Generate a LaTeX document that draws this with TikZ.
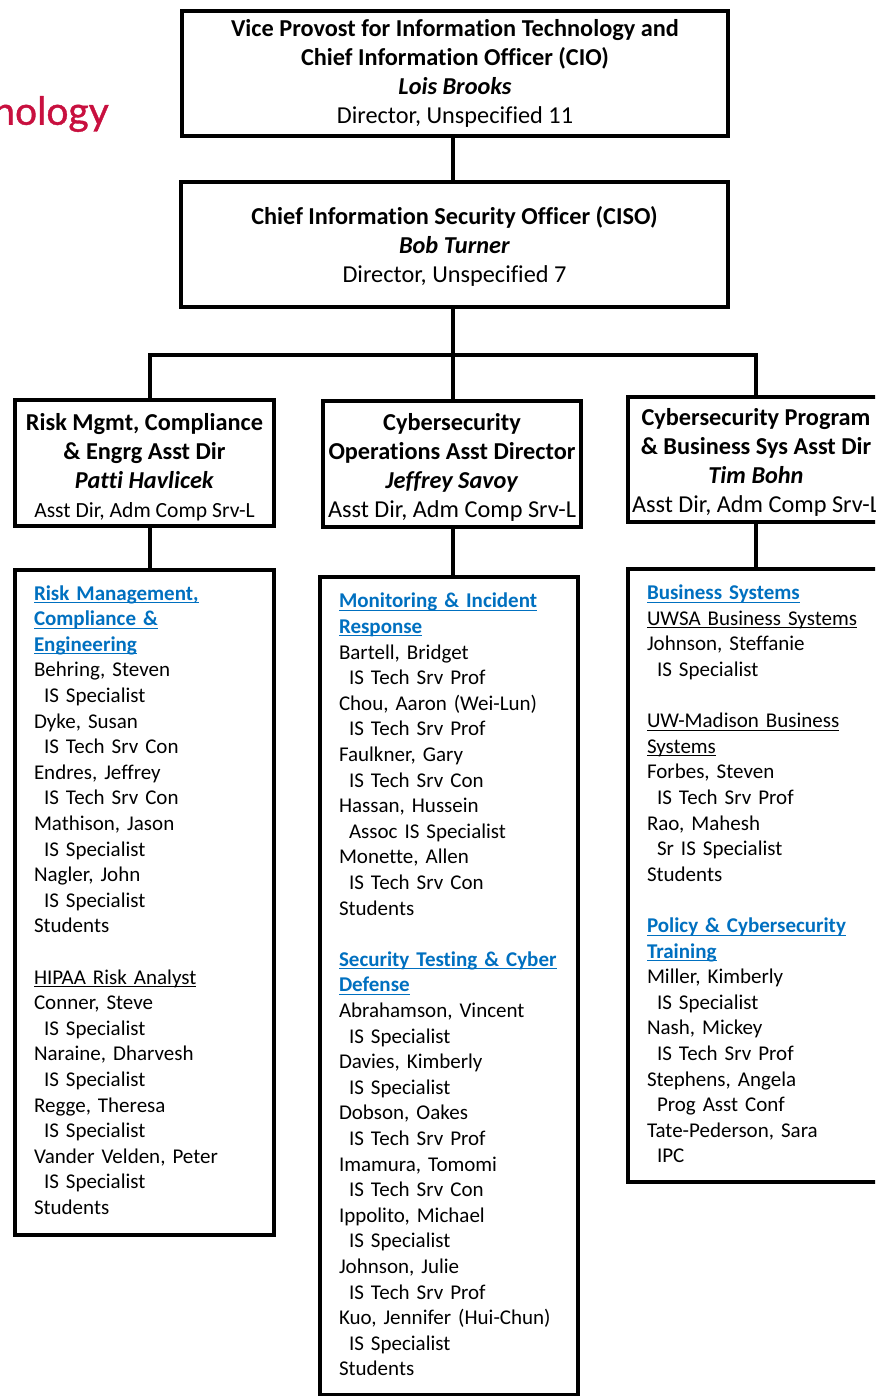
\documentclass[tikz,border=0pt]{standalone}
\usepackage{fontspec}
\setmainfont{Carlito}[Ligatures=NoCommon]
\newfontfamily\logofont{Lato}[FakeBold=1]
\definecolor{linkblue}{HTML}{0070C0}
\definecolor{logored}{HTML}{C8103F}
\newsavebox{\ulinebox}
\newcommand{\ulined}[1]{\sbox{\ulinebox}{#1}\usebox{\ulinebox}\llap{\rule[-3pt]{\wd\ulinebox}{1pt}}}
\newcommand{\grouphead}[1]{\textcolor{linkblue}{\ulined{\textbf{#1}}}}
\newcommand{\staff}[2]{#1\\\hspace*{10pt}#2\\}
\newcommand{\titlesmall}[1]{{\fontsize{21.6}{29}\selectfont #1}}
\newcommand{\topgap}[1]{\rule{0pt}{#1}}
\newcommand{\lastgap}[1]{\rule[-#1]{0pt}{1pt}}
\tikzset{
	headbox/.style 2 args={draw,line width=4pt,inner sep=0pt,align=center,minimum width=#1,minimum height=#2,font=\fontsize{24.3}{29}\selectfont},
	listbox/.style 2 args={draw,line width=4pt,inner xsep=19pt,inner ysep=0pt,align=left,text width=#1-38pt,minimum height=#2,font=\fontsize{21}{25.6}\selectfont},
	orgline/.style={line width=4pt}
}

\begin{document}
\begin{tikzpicture}[x=1pt,y=-1pt]
	\clip (0,0) rectangle (875,1396);
	\fill[white] (0,0) rectangle (875,1396);
	
	%logo cut by the page edge
	\node (logo) at (109,114)[anchor=east,inner sep=0pt,text=logored,font=\logofont\fontsize{39}{39}\selectfont] {nology};
	
	%top two boxes
	\node (cio) at (455,73.5)[headbox={546pt}{125pt}] {\textbf{Vice Provost for Information Technology and}\\\textbf{Chief Information Officer (CIO)}\\\textbf{\textit{Lois Brooks}}\\Director, Unspecified 11};
	\node (ciso) at (454.5,244.5)[headbox={547pt}{125pt}] {\topgap{21pt}\textbf{Chief Information Security Officer (CISO)}\\\textbf{\textit{Bob Turner}}\\Director, Unspecified 7};
	
	%three asst directors
	\node (riskhead) at (144.5,463)[headbox={259pt}{126pt}] {\topgap{26pt}\textbf{Risk Mgmt, Compliance}\\\textbf{\& Engrg Asst Dir}\\\textbf{\textit{Patti Havlicek}}\\\titlesmall{Asst Dir, Adm Comp Srv-L}};
	\node (opshead) at (452,464)[headbox={258pt}{126pt}] {\topgap{24pt}\textbf{Cybersecurity}\\\textbf{Operations Asst Director}\\\textbf{\textit{Jeffrey Savoy}}\\Asst Dir, Adm Comp Srv-L};
	\node (proghead) at (756,459.5)[headbox={256pt}{125pt}] {\topgap{22pt}\textbf{Cybersecurity Program}\\\textbf{\& Business Sys Asst Dir}\\\textbf{\textit{Tim Bohn}}\\Asst Dir, Adm Comp Srv-L};
	
	%left list
	\node (risklist) at (144.5,902.5)[listbox={259pt}{665pt}] {%
		\grouphead{Risk Management,}\\
		\grouphead{Compliance \&}\\
		\grouphead{Engineering}\\
		\staff{Behring, Steven}{IS Specialist}
		\staff{Dyke, Susan}{IS Tech Srv Con}
		\staff{Endres, Jeffrey}{IS Tech Srv Con}
		\staff{Mathison, Jason}{IS Specialist}
		\staff{Nagler, John}{IS Specialist}
		Students\\[25.6pt]
		\ulined{HIPAA Risk Analyst}\\
		\staff{Conner, Steve}{IS Specialist}
		\staff{Naraine, Dharvesh}{IS Specialist}
		\staff{Regge, Theresa}{IS Specialist}
		\staff{Vander Velden, Peter}{IS Specialist}
		Students\lastgap{5pt}};
	
	%middle list
	\node (opslist) at (449,986)[listbox={258pt}{818pt}] {%
		\grouphead{Monitoring \& Incident}\\
		\grouphead{Response}\\
		\staff{Bartell, Bridget}{IS Tech Srv Prof}
		\staff{Chou, Aaron (Wei-Lun)}{IS Tech Srv Prof}
		\staff{Faulkner, Gary}{IS Tech Srv Con}
		\staff{Hassan, Hussein}{Assoc IS Specialist}
		\staff{Monette, Allen}{IS Tech Srv Con}
		Students\\[25.6pt]
		\grouphead{Security Testing \& Cyber}\\
		\grouphead{Defense}\\
		\staff{Abrahamson, Vincent}{IS Specialist}
		\staff{Davies, Kimberly}{IS Specialist}
		\staff{Dobson, Oakes}{IS Tech Srv Prof}
		\staff{Imamura, Tomomi}{IS Tech Srv Con}
		\staff{Ippolito, Michael}{IS Specialist}
		\staff{Johnson, Julie}{IS Tech Srv Prof}
		\staff{Kuo, Jennifer (Hui-Chun)}{IS Specialist}
		Students\lastgap{3pt}};
	
	%right list
	\node (proglist) at (756,875.5)[listbox={256pt}{613pt}] {%
		\grouphead{Business Systems}\\
		\ulined{UWSA Business Systems}\\
		\staff{Johnson, Steffanie}{IS Specialist}
		\mbox{}\\
		\ulined{UW-Madison Business}\\
		\ulined{Systems}\\
		\staff{Forbes, Steven}{IS Tech Srv Prof}
		\staff{Rao, Mahesh}{Sr IS Specialist}
		Students\\[25.6pt]
		\grouphead{Policy \& Cybersecurity}\\
		\grouphead{Training}\\
		\staff{Miller, Kimberly}{IS Specialist}
		\staff{Nash, Mickey}{IS Tech Srv Prof}
		\staff{Stephens, Angela}{Prog Asst Conf}
		Tate-Pederson, Sara\\\hspace*{10pt}IPC\lastgap{3pt}};
	
	%connectors
	\coordinate (bus) at (453,355);
	\coordinate (busleft) at (150,355);
	\coordinate (busright) at (756,355);
	\draw[orgline] (cio.south -| bus) -- (ciso.north -| bus);
	\draw[orgline] (ciso.south -| bus) -- (bus);
	\draw[orgline,line cap=rect] (busleft) -- (busright);
	\foreach \head/\lst/\drop in {riskhead/risklist/busleft,opshead/opslist/bus,proghead/proglist/busright}
		{
		\draw[orgline] (\drop) -- (\head.north -| \drop);
		\draw[orgline] (\head.south -| \drop) -- (\lst.north -| \drop);
		}
\end{tikzpicture}
\end{document}
